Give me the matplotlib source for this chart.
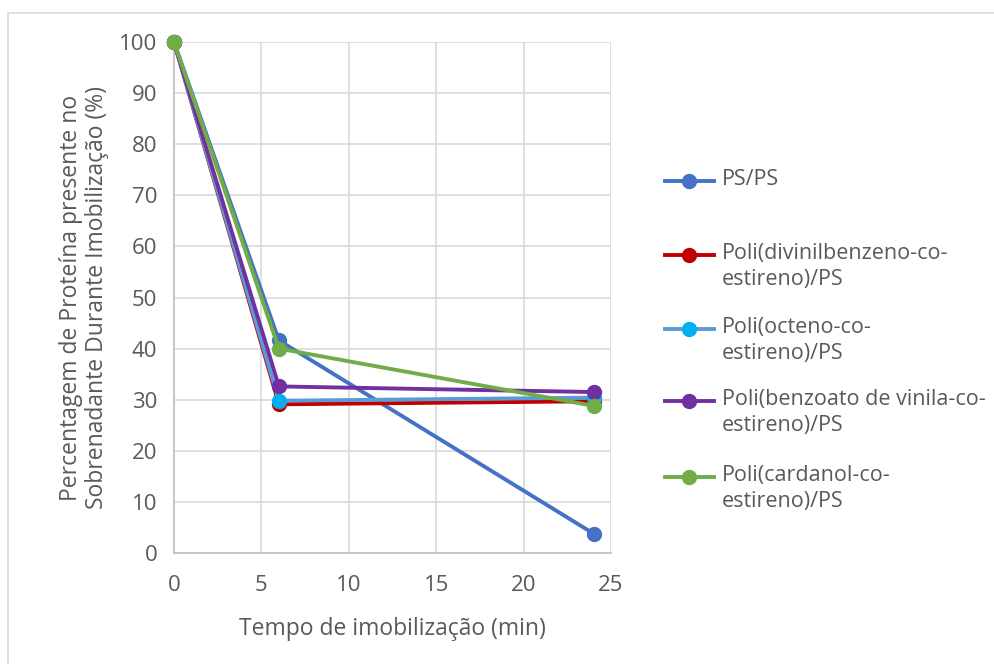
import matplotlib.pyplot as plt
from matplotlib.lines import Line2D
from matplotlib.patches import Rectangle

plt.rcParams['font.family'] = ['Open Sans', 'DejaVu Sans']

tempo = [0, 6, 24]

ps_ps = [100, 41.6, 3.8]
divinilbenzeno = [100, 29.1, 29.7]
octeno = [100, 29.8, 30.4]
benzoato = [100, 32.6, 31.5]
cardanol = [100, 40.0, 28.8]

labels = [
    "PS/PS",
    "Poli(divinilbenzeno-co-\nestireno)/PS",
    "Poli(octeno-co-\nestireno)/PS",
    "Poli(benzoato de vinila-co-\nestireno)/PS",
    "Poli(cardanol-co-\nestireno)/PS",
]
line_colors = ["#4472C4", "#C00000", "#5B9BD5", "#7030A0", "#70AD47"]
marker_colors = ["#4472C4", "#C00000", "#00B0F0", "#7030A0", "#70AD47"]
series = [ps_ps, divinilbenzeno, octeno, benzoato, cardanol]

text_color = "#595959"
grid_color = "#D9D9D9"

fig = plt.figure(figsize=(9.95, 6.64), dpi=100)
ax = fig.add_axes([174 / 995, 1 - 553 / 664, 437 / 995, 511 / 664])

for values, lc, mc in zip(series, line_colors, marker_colors):
    ax.plot(tempo, values, color=lc, linewidth=2.8, marker="o",
            markersize=10, markerfacecolor=mc, markeredgecolor=mc,
            clip_on=False, zorder=3)

ax.set_xlim(0, 25)
ax.set_ylim(0, 100)
ax.set_xticks(range(0, 26, 5))
ax.set_yticks(range(0, 101, 10))
ax.grid(True, color=grid_color, linewidth=1.2)
ax.set_axisbelow(True)
for side in ["top", "right"]:
    ax.spines[side].set_visible(False)
for side in ["left", "bottom"]:
    ax.spines[side].set_color("#BFBFBF")
    ax.spines[side].set_linewidth(1.2)
ax.tick_params(axis="y", length=0, labelsize=16, colors=text_color, pad=12)
ax.tick_params(axis="x", length=0, labelsize=16, colors=text_color, pad=16)

ax.set_xlabel("Tempo de imobilização (min)", fontsize=16.5, color=text_color,
              labelpad=15)
ax.set_ylabel("Percentagem de Proteína presente no\n"
              "Sobrenadante Durante Imobilização (%)",
              fontsize=16.5, color=text_color, labelpad=7, linespacing=1.15)

# legend drawn entry by entry so the handle sits on the first text line
legend_rows = [181, 255, 329, 401, 477]
for label, lc, mc, row in zip(labels, line_colors, marker_colors, legend_rows):
    y = 1 - row / 664
    fig.add_artist(Line2D([665 / 995, 714 / 995], [y, y], color=lc,
                          linewidth=2.8, transform=fig.transFigure))
    fig.add_artist(Line2D([689 / 995], [y], marker="o", markersize=10,
                          color=mc, transform=fig.transFigure))
    fig.text(722 / 995, y + 12 / 664, label, fontsize=15.5, color=text_color,
             va="top", ha="left", linespacing=1.32)

# chart area border
fig.add_artist(Rectangle((8 / 995, -0.1), 1.2, 1 - 13 / 664 + 0.1,
                         transform=fig.transFigure, fill=False,
                         edgecolor=grid_color, linewidth=1.2))

fig.savefig("out.png", dpi=100)
